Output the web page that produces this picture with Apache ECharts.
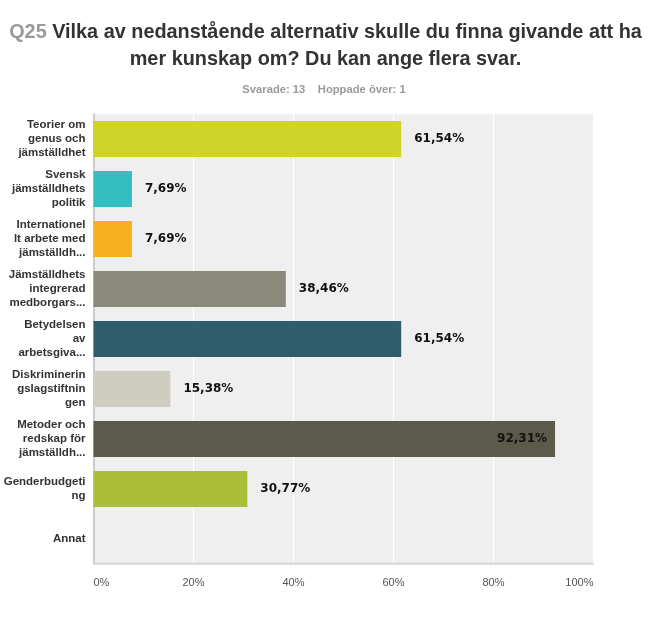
<!DOCTYPE html>
<html><head><meta charset="utf-8">
<script src="https://cdn.jsdelivr.net/npm/echarts@6/dist/echarts.min.js"></script>
<style>html,body{margin:0;padding:0;background:#fff}#c{width:650px;height:634px}</style>
</head><body><div id="c"></div>
<script>
const categories = [
  "Teorier om\ngenus och\njämställdhet",
  "Svensk\njämställdhets\npolitik",
  "Internationel\nlt arbete med\njämställdh...",
  "Jämställdhets\nintegrerad\nmedborgars...",
  "Betydelsen\nav\narbetsgiva...",
  "Diskriminerin\ngslagstiftnin\ngen",
  "Metoder och\nredskap för\njämställdh...",
  "Genderbudgeti\nng",
  "Annat"
];
const values = [61.54, 7.69, 7.69, 38.46, 61.54, 15.38, 92.31, 30.77, 0];
const colors = ["#d1d428", "#33bec1", "#f7b11f", "#8b8a7a", "#2e5e6b", "#cfcdbf", "#5c5a4b", "#abbe3a", "#cccccc"];
const xTicks = [0, 20, 40, 60, 80, 100];
const titleQ = "Q25";
const titleLines = ["Vilka av nedanstående alternativ skulle du finna givande att ha", "mer kunskap om? Du kan ange flera svar."];
const subtitle = "Svarade: 13    Hoppade över: 1";

const chart = echarts.init(document.getElementById('c'));
const data = values.map((v, i) => ({
  value: v,
  itemStyle: { color: colors[i] },
  label: v === 0 ? { show: false } : (v > 85 ? { position: 'insideRight', distance: 8 } : { position: 'right', distance: 13 })
}));
const tFont = '"Liberation Sans", Arial, sans-serif';
chart.setOption({
  backgroundColor: '#ffffff',
  grid: { left: 93.5, right: 56.5, top: 114, bottom: 70, show: true, backgroundColor: '#efefef', borderWidth: 0 },
  xAxis: {
    type: 'value', min: xTicks[0], max: xTicks[xTicks.length - 1], interval: 20,
    axisLine: { show: false }, axisTick: { show: false },
    splitLine: { show: true, lineStyle: { color: '#ffffff', width: 1 } },
    axisLabel: {
      formatter: v => v + '%', color: '#555555', fontSize: 11, margin: 13,
      fontFamily: tFont,
      alignMinLabel: 'left', alignMaxLabel: 'right'
    }
  },
  yAxis: {
    type: 'category', data: categories, inverse: true,
    axisLine: { show: true, lineStyle: { color: '#cccccc', width: 2 } },
    axisTick: { show: false },
    axisLabel: { color: '#333333', fontSize: 11.5, fontWeight: 'bold', lineHeight: 14, margin: 8,
      fontFamily: tFont, align: 'right' }
  },
  series: [{
    type: 'bar', data: data, barWidth: 36, silent: true,
    label: {
      show: true, formatter: p => p.value.toFixed(2).replace('.', ',') + '%',
      color: '#111111', fontSize: 12, fontWeight: 'bold', fontFamily: '"DejaVu Sans", Verdana, sans-serif'
    }
  }],
  graphic: [{
    type: 'rect', shape: { x: 93.5, y: 562.5, width: 500, height: 2.5 }, style: { fill: '#dddddd' }, z: 10
  }, {
    type: 'text', x: 325.5, y: 19, scaleX: 0.945, z: 20,
    style: {
      text: '{q|' + titleQ + '} ' + titleLines[0] + '\n' + titleLines[1],
      textAlign: 'center', textVerticalAlign: 'top',
      font: 'bold 21px ' + tFont, fill: '#333333', lineHeight: 27,
      rich: { q: { fill: '#999999', font: 'bold 21px ' + tFont, lineHeight: 27 } }
    }
  }, {
    type: 'text', x: 324, y: 84, scaleX: 1.02, z: 20,
    style: {
      text: subtitle, textAlign: 'center', textVerticalAlign: 'top',
      font: 'bold 11px ' + tFont, fill: '#9a9a9a'
    }
  }],
  animation: false
});
</script></body></html>
